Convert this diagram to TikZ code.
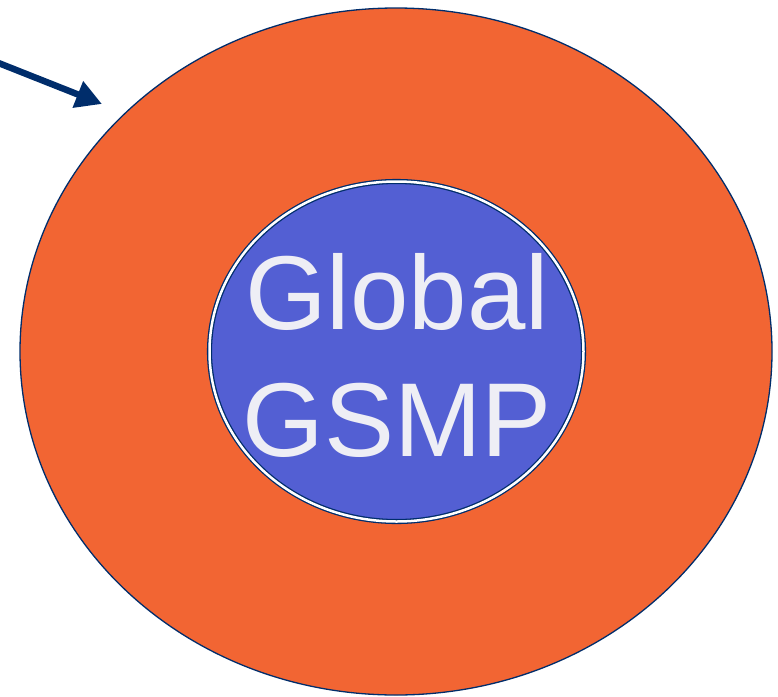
\documentclass[tikz,border=0pt]{standalone}
\usepackage{fontspec}
\setmainfont{Liberation Sans}
\usetikzlibrary{arrows.meta}
\usetikzlibrary{shapes.geometric}

\definecolor{gsmporange}{HTML}{F26533}
\definecolor{gsmpblue}{HTML}{535FD3}
\definecolor{gsmpnavy}{HTML}{002D6B}
\definecolor{gsmptext}{HTML}{EEEEF5}

\tikzset{
  ring/.style={ellipse,draw=gsmpnavy,line width=1.3pt,inner sep=0pt},
  pointer/.style={draw=gsmpnavy,line width=6.5pt,-{Triangle[length=26pt,width=27pt]}}
}

\begin{document}
\begin{tikzpicture}[x=1pt,y=-1pt]
  \useasboundingbox (0,0) rectangle (778,696);

  \node[ring,fill=gsmporange,minimum width=752pt,minimum height=687pt]
    (outer) at (396,351.5) {};
  \node[ring,fill=gsmpblue,double=white,double distance=2.5pt,
    minimum width=374pt,minimum height=340pt] (inner) at (396.5,351.5) {};

  \node[text=gsmptext,align=center,font=\fontsize{105}{127}\selectfont]
    (label) at (397,355) {Global\\GSMP};

  % pointer coming in from the left
  \coordinate (tail) at (-4,62);
  \coordinate (head) at (102,104);
  \draw[pointer] (tail) -- (head);
\end{tikzpicture}
\end{document}
